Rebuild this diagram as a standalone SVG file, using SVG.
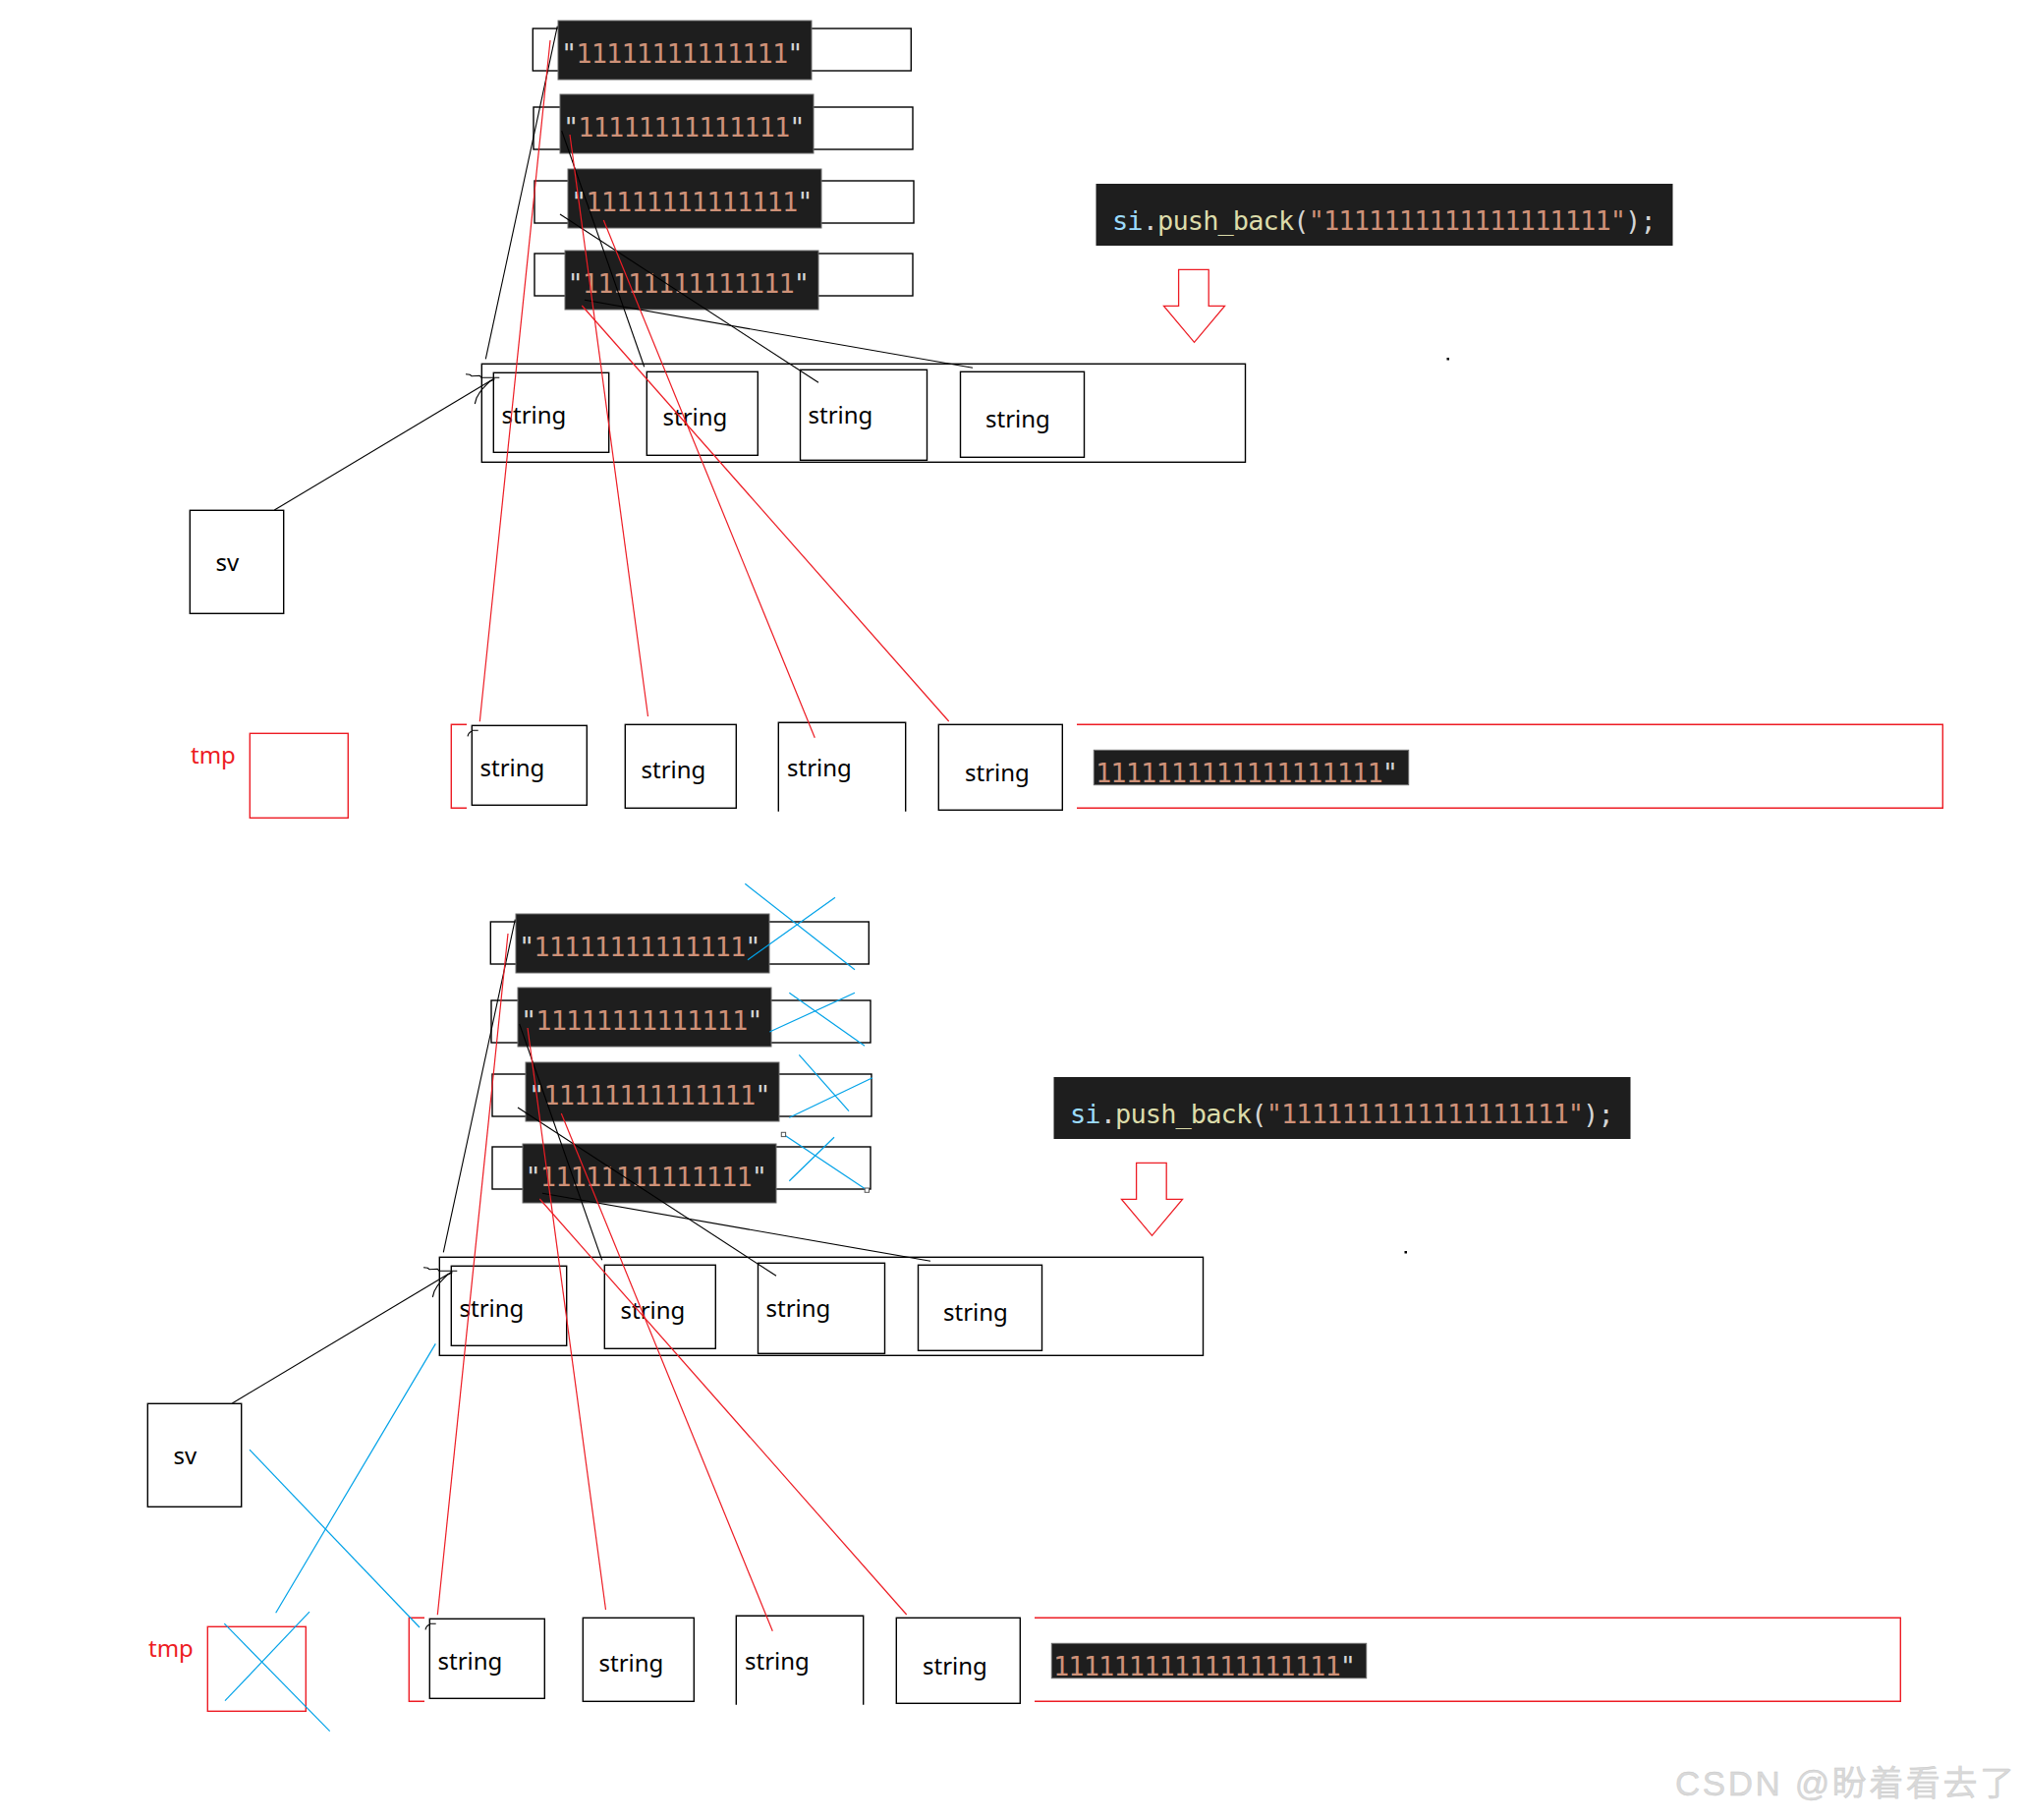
<svg xmlns="http://www.w3.org/2000/svg" width="2060" height="1852" viewBox="0 0 2060 1852">
<defs>
<style>
.o{fill:none;stroke:#000;stroke-width:1.4}
.ro{fill:none;stroke:#ed1c24;stroke-width:1.4}
.d{fill:#1e1e1e;stroke:#6b6b6b;stroke-width:1}
.code{font-family:"DejaVu Sans Mono","Liberation Mono",monospace;font-size:27px;letter-spacing:-0.9px}
.q{fill:#d4d4d4}.n{fill:#ce9178}.v{fill:#9cdcfe}.f{fill:#dcdcaa}
.lbl{font-family:"Noto Sans","Open Sans",sans-serif;font-size:24px;fill:#000}
.rl{font-family:"Noto Sans","Open Sans",sans-serif;font-size:24px;fill:#ed1c24}
.k{stroke:#000;stroke-width:1.1;fill:none}
.r{stroke:#ed1c24;stroke-width:1.2;fill:none}
.b{stroke:#00a2e8;stroke-width:1.2;fill:none}
.h{fill:#fff;stroke:#555;stroke-width:1}
</style>
</defs>
<rect width="2060" height="1852" fill="#fff"/>

<!-- ===== TOP HALF ===== -->
<g id="top">
<g id="lit1"><rect class="o" x="542.3" y="29" width="385" height="43"/><rect class="d" x="568" y="21" width="258" height="60"/><text class="code" x="571" y="64"><tspan class="q">"</tspan><tspan class="n">11111111111111</tspan><tspan class="q">"</tspan></text></g>
<g id="lit2"><rect class="o" x="543" y="109" width="386" height="43"/><rect class="d" x="570" y="96" width="258" height="60"/><text class="code" x="573" y="139"><tspan class="q">"</tspan><tspan class="n">11111111111111</tspan><tspan class="q">"</tspan></text></g>
<g id="lit3"><rect class="o" x="544" y="184" width="386" height="43"/><rect class="d" x="578" y="172" width="258" height="60"/><text class="code" x="581" y="215"><tspan class="q">"</tspan><tspan class="n">11111111111111</tspan><tspan class="q">"</tspan></text></g>
<g id="lit4"><rect class="o" x="544" y="258" width="385" height="43"/><rect class="d" x="575" y="255" width="258" height="60"/><text class="code" x="577.5" y="298"><tspan class="q">"</tspan><tspan class="n">11111111111111</tspan><tspan class="q">"</tspan></text></g>

<g id="code1"><rect fill="#1e1e1e" x="1115.5" y="187" width="587" height="63"/><text class="code" x="1132" y="234"><tspan class="v">si</tspan><tspan class="q">.</tspan><tspan class="f">push_back</tspan><tspan class="q">(</tspan><tspan class="n">"1111111111111111111"</tspan><tspan class="q">);</tspan></text></g>
<g id="arrow1"><path d="M1199.6,274.3H1230.2V311.3H1246.5L1215.5,348.3L1184.5,311.3H1199.6Z" fill="#fff" stroke="#ed1c24" stroke-width="1.3"/></g>
<g id="dot1"><rect x="1472.5" y="364" width="2.5" height="2.5" fill="#000"/></g>

<g id="vec1"><rect class="o" x="490.3" y="370.3" width="777.2" height="100"/></g>
<g id="s1"><rect class="o" x="502.3" y="379.3" width="117.4" height="81"/><text class="lbl" x="510.5" y="431">string</text></g>
<g id="s2"><rect class="o" x="658.3" y="378.3" width="113" height="85"/><text class="lbl" x="674.5" y="432.7">string</text></g>
<g id="s3"><rect class="o" x="814.5" y="376.3" width="129" height="92"/><text class="lbl" x="822.5" y="431">string</text></g>
<g id="s4"><rect class="o" x="977.5" y="378.3" width="126" height="87"/><text class="lbl" x="1003" y="435">string</text></g>

<g id="sv1"><rect class="o" x="193.3" y="519.3" width="95.4" height="105"/><text class="lbl" x="219.5" y="580.7">sv</text></g>

<g id="tmp1"><text class="rl" x="194" y="776.7">tmp</text><rect class="ro" x="254.3" y="746.3" width="100" height="86"/></g>
<g id="tvec1"><polyline class="ro" points="475,737.3 459.3,737.3 459.3,822.3 475,822.3"/><polyline class="ro" points="1096,737.3 1977.3,737.3 1977.3,822.3 1096,822.3"/></g>
<g id="t1"><rect class="o" x="480.3" y="738.3" width="117" height="81"/><text class="lbl" x="488.5" y="790">string</text></g>
<g id="t2"><rect class="o" x="636.3" y="737.3" width="113" height="85"/><text class="lbl" x="652.5" y="791.7">string</text></g>
<g id="t3"><polyline class="o" points="792.3,825.7 792.3,735.3 921.7,735.3 921.7,825.7"/><text class="lbl" x="801" y="790">string</text></g>
<g id="t4"><rect class="o" x="955.3" y="737.3" width="126" height="87"/><text class="lbl" x="982" y="795">string</text></g>
<g id="tlit1"><rect fill="#1e1e1e" stroke="#6b6b6b" stroke-width="1" x="1113.3" y="763.3" width="320.4" height="35.4"/><text class="code" x="1115" y="796"><tspan class="n">1111111111111111111</tspan><tspan class="q">"</tspan></text></g>

<g id="conn1">
<line class="k" x1="567.3" y1="26.7" x2="494.3" y2="365.3"/>
<line class="k" x1="571.7" y1="133" x2="655.7" y2="373.3"/>
<line class="k" x1="570" y1="218" x2="833" y2="389.3"/>
<line class="k" x1="595" y1="305.3" x2="990" y2="374.3"/>
<line class="k" x1="279.3" y1="519" x2="503.3" y2="385"/>
<polyline class="k" stroke-width="1.4" points="474,380.7 478.3,381.3 480,382.7 488.3,382.3 490,384.3 508.3,384.3"/>
<polyline class="k" stroke-width="1.4" points="483.3,411 485,405 488.3,399.3 491.7,395 495,391.7 498.3,388.3 503.3,386"/>
<line class="r" x1="560" y1="41" x2="488.3" y2="734.3"/>
<line class="r" x1="580" y1="137" x2="659.5" y2="729"/>
<line class="r" x1="614.3" y1="224" x2="829.3" y2="750.7"/>
<line class="r" x1="592.3" y1="311" x2="965.7" y2="734"/>
<path class="k" stroke-width="1.6" d="M480,743.3H486.7M476,749.3Q477,745 480.5,744"/>
</g>
</g>

<!-- ===== BOTTOM HALF ===== -->
<g id="bottom" transform="translate(-43,909)">
<g id="b-lit1"><rect class="o" x="542.3" y="29" width="385" height="43"/><rect class="d" x="568" y="21" width="258" height="60"/><text class="code" x="571" y="64"><tspan class="q">"</tspan><tspan class="n">11111111111111</tspan><tspan class="q">"</tspan></text></g>
<g id="b-lit2"><rect class="o" x="543" y="109" width="386" height="43"/><rect class="d" x="570" y="96" width="258" height="60"/><text class="code" x="573" y="139"><tspan class="q">"</tspan><tspan class="n">11111111111111</tspan><tspan class="q">"</tspan></text></g>
<g id="b-lit3"><rect class="o" x="544" y="184" width="386" height="43"/><rect class="d" x="578" y="172" width="258" height="60"/><text class="code" x="581" y="215"><tspan class="q">"</tspan><tspan class="n">11111111111111</tspan><tspan class="q">"</tspan></text></g>
<g id="b-lit4"><rect class="o" x="544" y="258" width="385" height="43"/><rect class="d" x="575" y="255" width="258" height="60"/><text class="code" x="577.5" y="298"><tspan class="q">"</tspan><tspan class="n">11111111111111</tspan><tspan class="q">"</tspan></text></g>

<g id="code2"><rect fill="#1e1e1e" x="1115.5" y="187" width="587" height="63"/><text class="code" x="1132" y="234"><tspan class="v">si</tspan><tspan class="q">.</tspan><tspan class="f">push_back</tspan><tspan class="q">(</tspan><tspan class="n">"1111111111111111111"</tspan><tspan class="q">);</tspan></text></g>
<g id="arrow2"><path d="M1199.6,274.3H1230.2V311.3H1246.5L1215.5,348.3L1184.5,311.3H1199.6Z" fill="#fff" stroke="#ed1c24" stroke-width="1.3"/></g>
<g id="dot2"><rect x="1472.5" y="364" width="2.5" height="2.5" fill="#000"/></g>

<g id="vec2"><rect class="o" x="490.3" y="370.3" width="777.2" height="100"/></g>
<g id="b-s1"><rect class="o" x="502.3" y="379.3" width="117.4" height="81"/><text class="lbl" x="510.5" y="431">string</text></g>
<g id="b-s2"><rect class="o" x="658.3" y="378.3" width="113" height="85"/><text class="lbl" x="674.5" y="432.7">string</text></g>
<g id="b-s3"><rect class="o" x="814.5" y="376.3" width="129" height="92"/><text class="lbl" x="822.5" y="431">string</text></g>
<g id="b-s4"><rect class="o" x="977.5" y="378.3" width="126" height="87"/><text class="lbl" x="1003" y="435">string</text></g>

<g id="sv2"><rect class="o" x="193.3" y="519.3" width="95.4" height="105"/><text class="lbl" x="219.5" y="580.7">sv</text></g>

<g id="tmp2"><text class="rl" x="194" y="776.7">tmp</text><rect class="ro" x="254.3" y="746.3" width="100" height="86"/></g>
<g id="tvec2"><polyline class="ro" points="475,737.3 459.3,737.3 459.3,822.3 475,822.3"/><polyline class="ro" points="1096,737.3 1977.3,737.3 1977.3,822.3 1096,822.3"/></g>
<g id="b-t1"><rect class="o" x="480.3" y="738.3" width="117" height="81"/><text class="lbl" x="488.5" y="790">string</text></g>
<g id="b-t2"><rect class="o" x="636.3" y="737.3" width="113" height="85"/><text class="lbl" x="652.5" y="791.7">string</text></g>
<g id="b-t3"><polyline class="o" points="792.3,825.7 792.3,735.3 921.7,735.3 921.7,825.7"/><text class="lbl" x="801" y="790">string</text></g>
<g id="b-t4"><rect class="o" x="955.3" y="737.3" width="126" height="87"/><text class="lbl" x="982" y="795">string</text></g>
<g id="b-tlit1"><rect fill="#1e1e1e" stroke="#6b6b6b" stroke-width="1" x="1113.3" y="763.3" width="320.4" height="35.4"/><text class="code" x="1115" y="796"><tspan class="n">1111111111111111111</tspan><tspan class="q">"</tspan></text></g>

<g id="conn2">
<line class="k" x1="567.3" y1="26.7" x2="494.3" y2="365.3"/>
<line class="k" x1="571.7" y1="133" x2="655.7" y2="373.3"/>
<line class="k" x1="570" y1="218" x2="833" y2="389.3"/>
<line class="k" x1="595" y1="305.3" x2="990" y2="374.3"/>
<line class="k" x1="279.3" y1="519" x2="503.3" y2="385"/>
<polyline class="k" stroke-width="1.4" points="474,380.7 478.3,381.3 480,382.7 488.3,382.3 490,384.3 508.3,384.3"/>
<polyline class="k" stroke-width="1.4" points="483.3,411 485,405 488.3,399.3 491.7,395 495,391.7 498.3,388.3 503.3,386"/>
<line class="r" x1="560" y1="41" x2="488.3" y2="734.3"/>
<line class="r" x1="580" y1="137" x2="659.5" y2="729"/>
<line class="r" x1="614.3" y1="224" x2="829.3" y2="750.7"/>
<line class="r" x1="592.3" y1="311" x2="965.7" y2="734"/>
<path class="k" stroke-width="1.6" d="M480,743.3H486.7M476,749.3Q477,745 480.5,744"/>
</g>
</g>

<!-- blue strike-outs (bottom half) -->
<g id="strikes">
<line class="b" x1="758.3" y1="899.3" x2="870" y2="986.7"/>
<line class="b" x1="850" y1="913.3" x2="761" y2="976.7"/>
<line class="b" x1="803.3" y1="1010.3" x2="880" y2="1064.3"/>
<line class="b" x1="870" y1="1010.3" x2="783.3" y2="1050"/>
<line class="b" x1="813.3" y1="1073.3" x2="864" y2="1130.7"/>
<line class="b" x1="888" y1="1096.7" x2="803.3" y2="1137.3"/>
<line class="b" x1="797.3" y1="1154.3" x2="882.3" y2="1211"/>
<line class="b" x1="849" y1="1157.3" x2="803.3" y2="1201.7"/>
<rect class="h" x="795.3" y="1152.3" width="4.3" height="4.3"/>
<rect class="h" x="880.2" y="1209" width="4.3" height="4.3"/>
<line class="b" x1="443.3" y1="1367.4" x2="280.7" y2="1641.2"/>
<line class="b" x1="254" y1="1475.2" x2="427" y2="1656"/>
<line class="b" x1="228.3" y1="1652.2" x2="335.7" y2="1761.7"/>
<line class="b" x1="315" y1="1640.1" x2="229" y2="1730.7"/>
</g>

<g id="watermark"><text x="1705" y="1827" font-family="'Liberation Sans','Noto Sans CJK SC',sans-serif" font-size="35" fill="#d9d9d9" stroke="#c8c8c8" stroke-width="0.4" textLength="345" lengthAdjust="spacing">CSDN @盼着看去了</text></g>
</svg>
